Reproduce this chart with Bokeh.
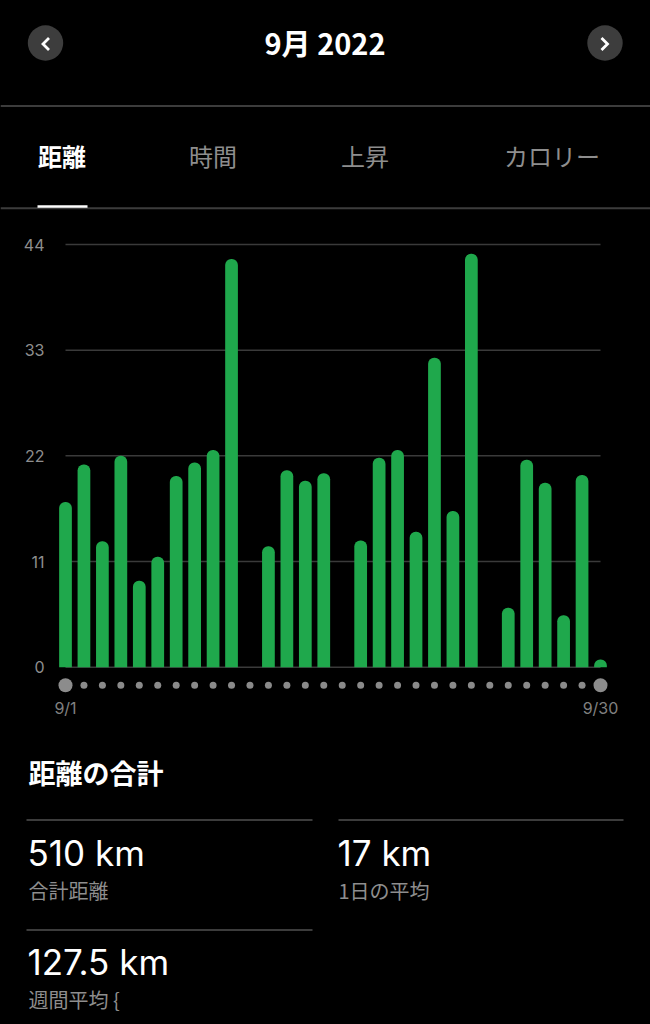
from bokeh.plotting import figure
from bokeh.models import Range1d
from bokeh.core.properties import value
from bokeh.embed import file_html
from bokeh.resources import INLINE

# ---------------- data ----------------
days = list(range(1, 31))
distance_km = [17.2, 21.1, 13.1, 22.0, 9.0, 11.5, 19.9, 21.3, 22.6, 42.5,
               0.0, 12.6, 20.5, 19.4, 20.2, 0.0, 13.2, 21.8, 22.6, 14.1,
               32.2, 16.25, 43.05, 0.0, 6.2, 21.6, 19.2, 5.4, 20.0, 0.8]
y_ticks = [0, 11, 22, 33, 44]
x_tick_days = [1, 30]
x_tick_labels = ["9/1", "9/30"]
title_text = "9月 2022"
tab_names = ["距離", "時間", "上昇", "カロリー"]
summary_title = "距離の合計"
stat_values = ["510 km", "17 km", "127.5 km"]
stat_labels = ["合計距離", "1日の平均", "週間平均 {"]

# ---------------- style ----------------
BG = "#000000"
GREEN = "#1fa84c"
GRID = "#3a3a3a"
SEP = "#3c3c3c"
GREY_TXT = "#8e8e8e"
CJK = "Noto Sans CJK JP"
LAT = "Inter"
W, H = 650, 1024

# chart scale geometry (page pixels)
PX_DAY1, PX_DAY30 = 65.0, 600.0
PX_ZERO, PX_TOP = 666.7, 244.0
kx = (PX_DAY30 - PX_DAY1) / (days[-1] - days[0])
ky = (PX_ZERO - PX_TOP) / y_ticks[-1]
day_start = days[0] - PX_DAY1 / kx
day_end = day_start + W / kx
km_end = PX_ZERO / ky
km_start = km_end - H / ky

p = figure(width=W, height=H, x_range=Range1d(0, W), y_range=Range1d(H, 0),
           output_backend="svg", toolbar_location=None,
           x_axis_location=None, y_axis_location=None, min_border=0)
p.min_border_left = p.min_border_right = 0
p.min_border_top = p.min_border_bottom = 0
p.extra_x_ranges = {"day": Range1d(day_start, day_end)}
p.extra_y_ranges = {"km": Range1d(km_start, km_end)}
p.background_fill_color = BG
p.border_fill_color = BG
p.outline_line_color = None
p.grid.visible = False
p.styles = {"background-color": "black"}


def txt(x, y, t, size, color, font=CJK, align="left", style="normal", **kw):
    p.text(x=x, y=y, text=t, text_align=value(align),
           text_baseline=value("middle"), text_font=value(font),
           text_font_size=value(size), text_font_style=value(style),
           text_color=color, **kw)


# ---------------- header ----------------
p.circle(x=[45, 604.5], y=[42.5, 42.5], radius=17.7,
         fill_color="#3d3d3d", line_color=None)
p.line(x=[48.5, 42.5, 48.5], y=[37.5, 43.5, 49.5], line_color="white",
       line_width=2.8, line_join="miter")
p.line(x=[601, 607, 601], y=[37.5, 43.5, 49.5], line_color="white",
       line_width=2.8, line_join="miter")
txt([324.5], [41], [title_text], "29px", "white", align="center",
    style="bold")
p.segment(x0=[0, 0], x1=[W, W], y0=[105.5, 207.8], y1=[105.5, 207.8],
          line_color=SEP, line_width=2)
tab_x = [61.5, 212.5, 364.5, 551.5]
tab_col = ["white", GREY_TXT, GREY_TXT, GREY_TXT]
tab_style = ["bold", "normal", "normal", "normal"]
for tx, tn, tc, ts in zip(tab_x, tab_names, tab_col, tab_style):
    txt([tx], [155], [tn], "24px", tc, align="center", style=ts)
p.segment(x0=[37], x1=[87], y0=[206], y1=[206], line_color="white",
          line_width=2.5)

# ---------------- chart ----------------
p.segment(x0=[days[0]] * len(y_ticks), x1=[days[-1]] * len(y_ticks),
          y0=y_ticks, y1=y_ticks, line_color=GRID, line_width=1.5,
          x_range_name="day", y_range_name="km")
bar_kw = dict(x=days, top=distance_km, bottom=0, width=0.69,
              fill_color=GREEN, line_color=None,
              x_range_name="day", y_range_name="km")
try:
    p.vbar(border_radius=(6, 6, 0, 0), **bar_kw)
except Exception:
    p.vbar(**bar_kw)

# y tick labels (placed through the km scale)
txt([44] * len(y_ticks), y_ticks, [str(t) for t in y_ticks], "16px",
    GREY_TXT, font=LAT, align="right", y_range_name="km")

# day dots and x labels (placed through the day scale)
DOT_Y = 684.7
p.scatter(x=days[1:-1], y=[DOT_Y] * (len(days) - 2), size=7,
          fill_color="#8a8a8a", line_color=None, x_range_name="day")
p.scatter(x=x_tick_days, y=[DOT_Y] * len(x_tick_days), size=14,
          fill_color="#8c8c8c", line_color=None, x_range_name="day")
txt(x_tick_days, [707.5] * len(x_tick_days), x_tick_labels, "16px",
    "#808080", font=LAT, align="center", x_range_name="day")

# ---------------- summary ----------------
txt([28], [771.5], [summary_title], "27px", "white", style="bold")
p.segment(x0=[26, 338, 26], x1=[312, 623, 312], y0=[819.5, 819.5, 929.5],
          y1=[819.5, 819.5, 929.5], line_color=SEP, line_width=2)
val_x = [27, 337, 27]
val_y = [852, 852, 961]
lab_y = [890, 890, 999]
for vx, vy, ly, vt, lt in zip(val_x, val_y, lab_y, stat_values, stat_labels):
    txt([vx], [vy], [vt], "35px", "white", font=LAT)
    txt([vx + 1], [ly], [lt], "20px", GREY_TXT)

open("out.html", "w").write(file_html(p, INLINE))
